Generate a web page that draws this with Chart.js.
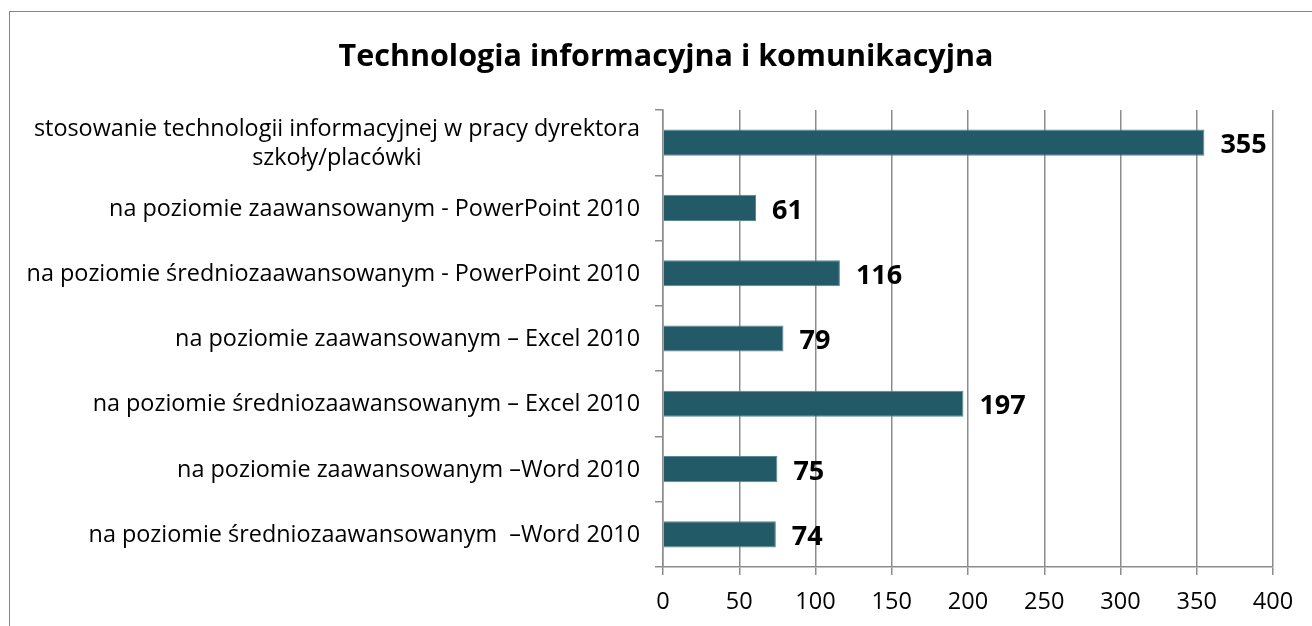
<!DOCTYPE html>
<html>
<head>
<meta charset="utf-8">
<script src="https://cdn.jsdelivr.net/npm/chart.js@4"></script>
<style>
    html, body { margin: 0; padding: 0; background: #fff; overflow: hidden; }
    #frame { position: absolute; left: 9px; top: 11px; width: 1400px; height: 700px; border: 1.5px solid #868686; }
    #wrap { position: absolute; left: 0; top: 0; width: 1312px; height: 626px; }
</style>
</head>
<body>
<div id="frame"></div>
<div id="wrap"><canvas id="chart" width="1312" height="626"></canvas></div>
<script>
const categories = [
    ["stosowanie technologii informacyjnej w pracy dyrektora", "szkoły/placówki"],
    "na poziomie zaawansowanym - PowerPoint 2010",
    "na poziomie średniozaawansowanym - PowerPoint 2010",
    "na poziomie zaawansowanym – Excel 2010",
    "na poziomie średniozaawansowanym – Excel 2010",
    "na poziomie zaawansowanym –Word 2010",
    "na poziomie średniozaawansowanym  –Word 2010"
];
const values = [355, 61, 116, 79, 197, 75, 74];
const xTicks = [0, 50, 100, 150, 200, 250, 300, 350, 400];
const chartTitle = "Technologia informacyjna i komunikacyjna";

const FONT = "'Open Sans'";
const GRID = "#8c8c8c";

// title centred on the outer frame, not on the plot
const titlePlugin = {
    id: "frameTitle",
    afterDraw(chart) {
        const ctx = chart.ctx;
        ctx.save();
        ctx.font = `bold 30.5px ${FONT}`;
        ctx.fillStyle = "#000";
        ctx.textAlign = "center";
        ctx.textBaseline = "middle";
        ctx.fillText(chartTitle, 666, 57);
        ctx.restore();
    }
};

// y labels drawn by hand so wrapped lines are centred like in Excel
const yLabelPlugin = {
    id: "yLabels",
    afterDraw(chart) {
        const ctx = chart.ctx;
        const scale = chart.scales.y;
        const right = 640;
        const lineH = 29.5;
        ctx.save();
        ctx.font = `23.4px ${FONT}`;
        ctx.fillStyle = "#000";
        ctx.textBaseline = "middle";
        categories.forEach((label, i) => {
            const lines = Array.isArray(label) ? label : [label];
            const y = scale.getPixelForTick(i) + 1;
            const maxW = Math.max(...lines.map(l => ctx.measureText(l).width));
            lines.forEach((line, j) => {
                const ly = y + (j - (lines.length - 1) / 2) * lineH;
                if (lines.length > 1) {
                    ctx.textAlign = "center";
                    ctx.fillText(line, right - maxW / 2, ly);
                } else {
                    ctx.textAlign = "right";
                    ctx.fillText(line, right, ly);
                }
            });
        });
        ctx.restore();
    }
};

const valueLabelPlugin = {
    id: "valueLabels",
    afterDatasetsDraw(chart) {
        const ctx = chart.ctx;
        const meta = chart.getDatasetMeta(0);
        ctx.save();
        ctx.font = `bold 27px ${FONT}`;
        ctx.fillStyle = "#000";
        ctx.textAlign = "left";
        ctx.textBaseline = "middle";
        meta.data.forEach((bar, i) => {
            ctx.fillText(String(values[i]), bar.x + 16, bar.y + 3);
        });
        ctx.restore();
    }
};

new Chart(document.getElementById("chart"), {
    type: "bar",
    data: {
        labels: categories,
        datasets: [{
            data: values,
            backgroundColor: "#235a68",
            borderColor: "#5b8794",
            borderWidth: 1,
            barPercentage: 0.4,
            categoryPercentage: 1
        }]
    },
    options: {
        indexAxis: "y",
        responsive: false,
        animation: false,
        layout: { padding: { left: 0, right: 39, top: 110, bottom: 0 } },
        plugins: {
            legend: { display: false },
            tooltip: { enabled: false },
            title: { display: false }
        },
        scales: {
            x: {
                min: 0,
                max: 400,
                afterFit: scale => { scale.height = 59; },
                afterBuildTicks: scale => { scale.ticks = xTicks.map(v => ({ value: v })); },
                grid: { color: GRID, lineWidth: 1.5, tickLength: 8 },
                border: { color: GRID, width: 1.5 },
                ticks: {
                    color: "#000",
                    padding: 13,
                    font: { family: FONT, size: 23.5 }
                }
            },
            y: {
                afterFit: scale => { scale.width = 663; },
                grid: { drawOnChartArea: false, color: GRID, lineWidth: 1.5, tickLength: 8, offset: true },
                border: { color: GRID, width: 1.5 },
                ticks: { color: "rgba(0,0,0,0)", font: { family: FONT, size: 20 } }
            }
        }
    },
    plugins: [yLabelPlugin, valueLabelPlugin, titlePlugin]
});
</script>
</body>
</html>
